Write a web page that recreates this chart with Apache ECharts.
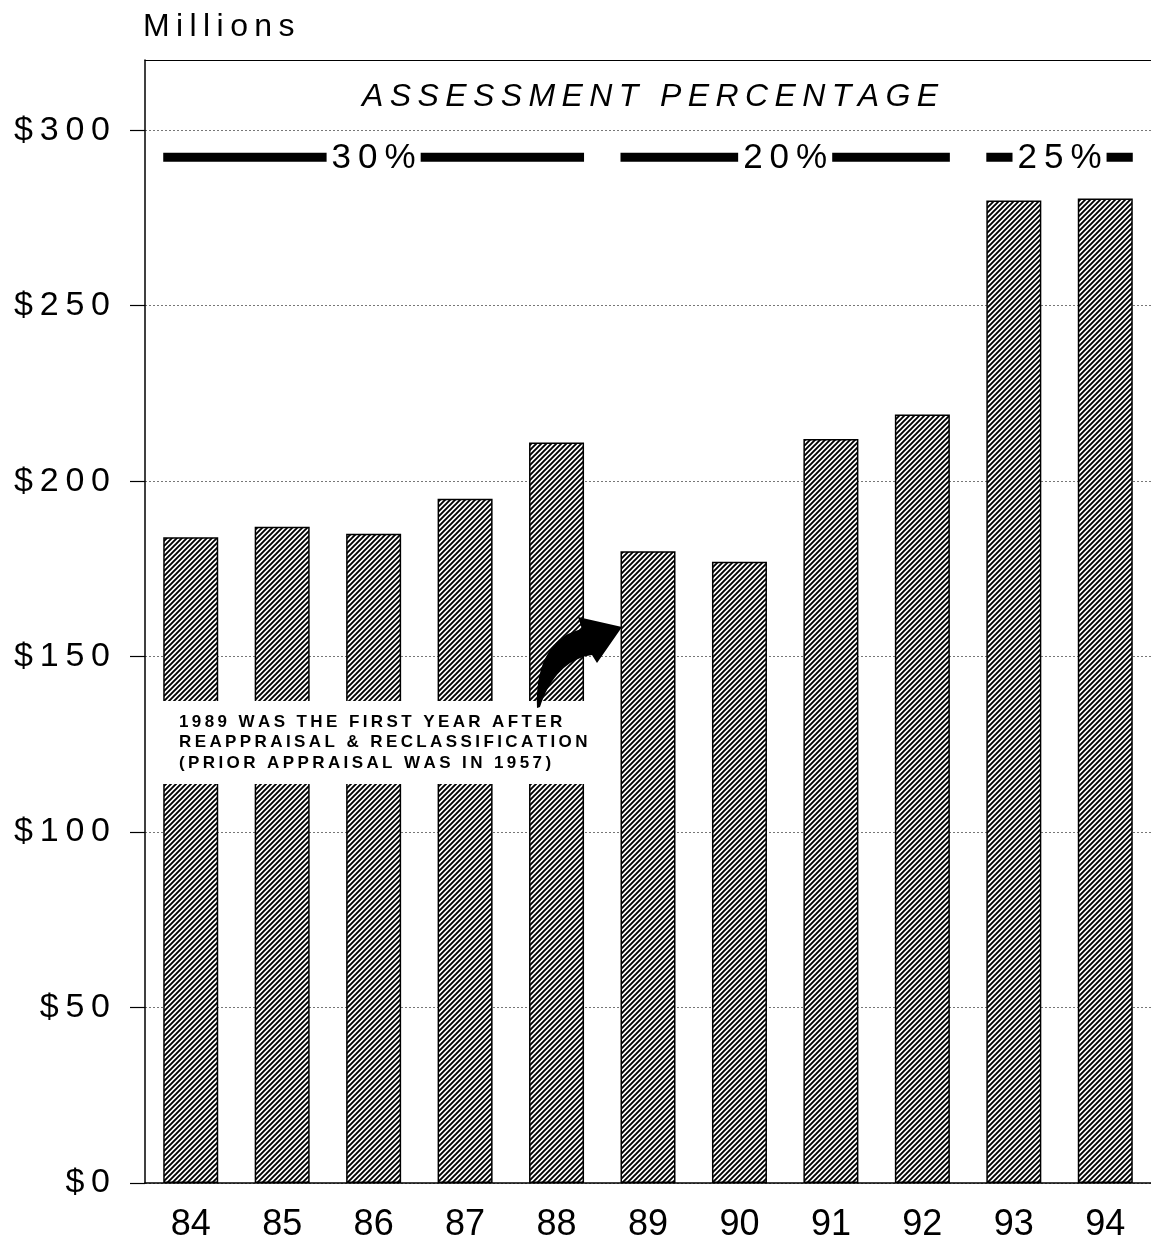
<!DOCTYPE html>
<html>
<head>
<meta charset="utf-8">
<style>
  html, body { margin: 0; padding: 0; background: #fff; }
  #chart { width: 1151px; height: 1246px; }
</style>
<script src="https://cdn.jsdelivr.net/npm/echarts@6/dist/echarts.min.js"></script>
</head>
<body>
<div id="chart"></div>
<script>
var years = ['84', '85', '86', '87', '88', '89', '90', '91', '92', '93', '94'];
var values = [184, 187, 185, 195, 211, 180, 177, 212, 219, 280, 280.5];
var yTicks = [0, 50, 100, 150, 200, 250, 300];
var rates = ['30%', '20%', '25%'];
var rateFrom = ['84', '89', '93'];
var rateTo = ['88', '92', '94'];
var note = [
  '1989 WAS THE FIRST YEAR AFTER',
  'REAPPRAISAL & RECLASSIFICATION',
  '(PRIOR APPRAISAL WAS IN 1957)'
];

var FONT = "'Liberation Sans', Arial, Helvetica, sans-serif";
var THIN = '\u2009';

// the original lettering is tracked out wide
function spaced(s) {
  return s.split('').join(THIN);
}

function hatch() {
  var c = document.createElement('canvas');
  c.width = 5; c.height = 5;
  var g = c.getContext('2d');
  g.fillStyle = '#fff';
  g.fillRect(0, 0, 5, 5);
  g.strokeStyle = '#000';
  g.lineWidth = 1.9;
  g.beginPath();
  g.moveTo(-1, 6); g.lineTo(6, -1);
  g.moveTo(-3.5, 3.5); g.lineTo(3.5, -3.5);
  g.moveTo(1.5, 8.5); g.lineTo(8.5, 1.5);
  g.stroke();
  return c;
}

// sample a cubic bezier into polygon points
function bez(p0, p1, p2, p3, n) {
  var pts = [];
  for (var i = 0; i <= n; i++) {
    var t = i / n, u = 1 - t;
    pts.push([
      u * u * u * p0[0] + 3 * u * u * t * p1[0] + 3 * u * t * t * p2[0] + t * t * t * p3[0],
      u * u * u * p0[1] + 3 * u * u * t * p1[1] + 3 * u * t * t * p2[1] + t * t * t * p3[1]
    ]);
  }
  return pts;
}

var chart = echarts.init(document.getElementById('chart'));
var barW = 55;

chart.setOption({
  animation: false,
  backgroundColor: '#fff',
  grid: { left: 145, right: -8, top: 60, bottom: 63 },
  xAxis: [{
    type: 'category',
    data: years,
    axisLine: { lineStyle: { color: '#000', width: 1.5 } },
    axisTick: { show: false },
    axisLabel: { color: '#000', fontFamily: FONT, fontSize: 36, margin: 24 }
  }, {
    type: 'category',
    data: years,
    position: 'top',
    axisLine: { show: true, lineStyle: { color: '#000', width: 1 } },
    axisTick: { show: false },
    axisLabel: { show: false }
  }],
  yAxis: {
    type: 'value',
    min: 0,
    max: 320,
    interval: 50,
    axisLine: { show: true, lineStyle: { color: '#000', width: 1.5 } },
    axisTick: { show: true, length: 15, customValues: yTicks, lineStyle: { color: '#000', width: 1.2 } },
    axisLabel: {
      customValues: yTicks,
      color: '#000',
      fontFamily: FONT,
      fontSize: 34,
      margin: 35,
      formatter: function (v) {
        return v > 300 ? '' : spaced('$' + v);
      }
    },
    splitLine: { lineStyle: { color: '#777', type: [2, 2], width: 1 } }
  },
  series: [{
    type: 'bar',
    data: values,
    barWidth: barW,
    itemStyle: {
      color: { image: hatch(), repeat: 'repeat' },
      borderColor: '#000',
      borderWidth: 1.5
    }
  }]
});

function px(cat) {
  return chart.convertToPixel({ xAxisIndex: 0 }, cat);
}

var lineY = chart.convertToPixel({ yAxisIndex: 0 }, 292.3);
var graphics = [];

graphics.push({
  type: 'text', x: 143, y: 27, z: 100,
  style: {
    text: spaced('Millions'), font: '32px ' + FONT, fill: '#000',
    align: 'left', verticalAlign: 'middle'
  }
});
graphics.push({
  type: 'text', x: 650, y: 97, z: 100,
  style: {
    text: spaced('ASSESSMENT PERCENTAGE'),
    font: 'italic 32px ' + FONT, fill: '#000',
    align: 'center', verticalAlign: 'middle'
  }
});

rates.forEach(function (r, i) {
  var x0 = px(rateFrom[i]) - barW / 2;
  var x1 = px(rateTo[i]) + barW / 2;
  graphics.push({
    type: 'rect', z: 100,
    shape: { x: x0, y: lineY - 4.5, width: x1 - x0, height: 9 },
    style: { fill: '#000' }
  });
  graphics.push({
    type: 'text', x: (x0 + x1) / 2, y: lineY + 1, z: 101,
    style: {
      text: spaced(r), font: '35px ' + FONT, fill: '#000',
      align: 'center', verticalAlign: 'middle',
      backgroundColor: '#fff', padding: [0, 5]
    }
  });
});

// note box over the 84-88 bars
graphics.push({
  type: 'rect', z: 100,
  shape: { x: 162, y: 701, width: 434, height: 83 },
  style: { fill: '#fff' }
});
note.forEach(function (t, i) {
  graphics.push({
    type: 'text', x: 179, y: 722 + i * 20.5, z: 101,
    style: {
      text: spaced(t), font: 'bold 17px ' + FONT, fill: '#000',
      align: 'left', verticalAlign: 'middle'
    }
  });
});

// curved arrow from the note to 1989
var arrowPts = bez([537, 708], [535, 666], [550, 636], [582, 629], 18)
  .concat([[578, 617], [622, 627], [597, 663], [592, 655]])
  .concat(bez([592, 655], [568, 658], [549, 678], [540, 707], 18));
graphics.push({
  type: 'polygon', z: 102,
  shape: { points: arrowPts },
  style: { fill: '#000' }
});

chart.setOption({ graphic: graphics });
</script>
</body>
</html>
